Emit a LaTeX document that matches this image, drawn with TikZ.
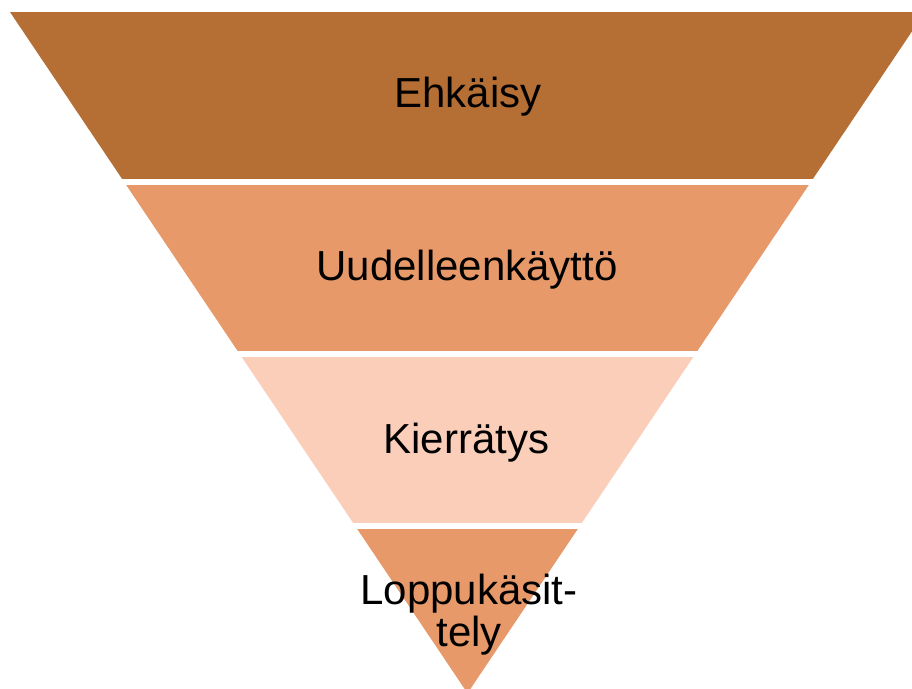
\documentclass[tikz,border=0pt]{standalone}
\usepackage{fontspec}
\setmainfont{Liberation Sans}
\definecolor{bandA}{HTML}{B56E34}
\definecolor{bandB}{HTML}{E8996A}
\definecolor{bandC}{HTML}{FBCEB9}
\begin{document}
\begin{tikzpicture}[x=0.75pt,y=-0.75pt,
  lbl/.style={anchor=base,inner sep=0pt,align=center,font=\fontsize{31.5}{31.3}\selectfont}]
\fill[white] (0,0) rectangle (912,688);
\useasboundingbox (0,0) rectangle (912,688);
\begin{scope}
  \clip (0,0) rectangle (912,688);
  \clip (10,12) -- (925,12) -- (467.5,693.2) -- cycle;
  \fill[bandA] (0,12) rectangle (930,178.5);
  \fill[bandB] (0,185) rectangle (930,351);
  \fill[bandC] (0,357) rectangle (930,522.7);
  \fill[bandB] (0,529) rectangle (930,700);
\end{scope}
\node[lbl] (ehk) at (468,107.3) {Ehkäisy};
\node[lbl] (uud) at (467,280) {Uudelleenkäyttö};
\node[lbl] (kie) at (466.4,453.3) {Kierrätys};
\node[lbl] (lop) at (469,646) {Loppukäsit-\\tely};
\end{tikzpicture}
\end{document}
